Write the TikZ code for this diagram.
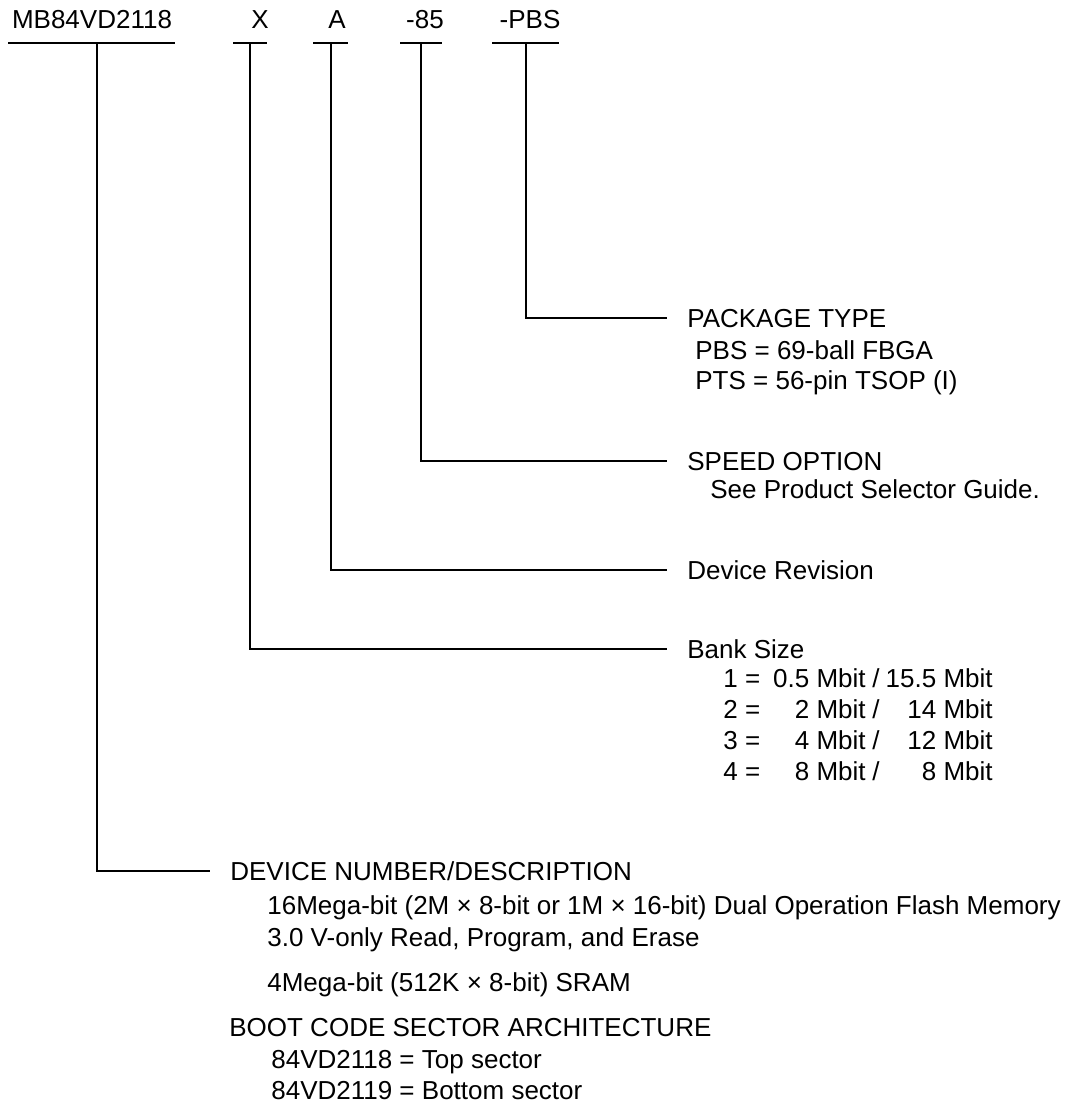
\documentclass[tikz,border=0pt]{standalone}
\usepackage{fontspec}
\setmainfont{Liberation Sans}
\tikzset{
  lbl/.style={anchor=base west,inner sep=0pt,font=\fontsize{14.8}{17}\selectfont},
  lead/.style={line width=1.1pt},
  tolbl/.style={lead,shorten >=0.4cm},
}
\begin{document}
\begin{tikzpicture}[x=0.02cm,y=-0.02cm]
\useasboundingbox (0,0) rectangle (1089,1103);

% part number fields
\node[lbl,anchor=base] (mb) at (92,28) {MB84VD2118};
\node[lbl,anchor=base] (xx) at (260,28) {X};
\node[lbl,anchor=base] (rev) at (337,28) {A};
\node[lbl,anchor=base] (spd) at (425,28) {-85};
\node[lbl,anchor=base] (pkg) at (530,28) {-PBS};

\draw[lead] (8,43) -- (175,43);
\draw[lead] (233,43) -- (267,43);
\draw[lead] (313,43) -- (348,43);
\draw[lead] (400,43) -- (442,43);
\draw[lead] (492,43) -- (559,43);

\coordinate (tmb) at (97,43);
\coordinate (txx) at (250,43);
\coordinate (trev) at (331,43);
\coordinate (tspd) at (421,43);
\coordinate (tpkg) at (526,43);

% package type
\node[lbl] (pkgtitle) at (687,327) {PACKAGE TYPE};
\node[lbl] (pkg1) at (695,359) {PBS = 69-ball FBGA};
\node[lbl] (pkg2) at (695,389) {PTS = 56-pin TSOP (I)};

% speed
\node[lbl] (spdtitle) at (687,470) {SPEED OPTION};
\node[lbl] (spd1) at (710,498) {See Product Selector Guide.};

% revision
\node[lbl] (revtitle) at (687,579) {Device Revision};

% bank size
\node[lbl] (banktitle) at (687,658) {Bank Size};
\foreach \n/\a/\b [count=\i] in {1/0.5/15.5, 2/2/14, 3/4/12, 4/8/8} {
  \node[lbl] (bk\i) at (723,{656+31*\i}) {\n\ =};
  \node[lbl,anchor=base east] (bka\i) at (866,{656+31*\i}) {\a\ Mbit};
  \node[lbl] (bks\i) at (872,{656+31*\i}) {/};
  \node[lbl,anchor=base east] (bkb\i) at (993,{656+31*\i}) {\b\ Mbit};
}

% device number
\node[lbl] (devtitle) at (230,880) {DEVICE NUMBER/DESCRIPTION};
\node[lbl] (dev1) at (267,914) {16Mega-bit (2M × 8-bit or 1M × 16-bit) Dual Operation Flash Memory};
\node[lbl] (dev2) at (267,946) {3.0 V-only Read, Program, and Erase};
\node[lbl] (dev3) at (267,991) {4Mega-bit (512K × 8-bit) SRAM};
\node[lbl] (boot) at (229,1036) {BOOT CODE SECTOR ARCHITECTURE};
\node[lbl] (boot1) at (271,1068) {84VD2118 = Top sector};
\node[lbl] (boot2) at (271,1099) {84VD2119 = Bottom sector};

% leaders
\draw[tolbl] (tpkg) |- (pkgtitle.west);
\draw[tolbl] (tspd) |- (spdtitle.west);
\draw[tolbl] (trev) |- (revtitle.west);
\draw[tolbl] (txx) |- (banktitle.west);
\draw[tolbl] (tmb) |- (devtitle.west);
\end{tikzpicture}
\end{document}
